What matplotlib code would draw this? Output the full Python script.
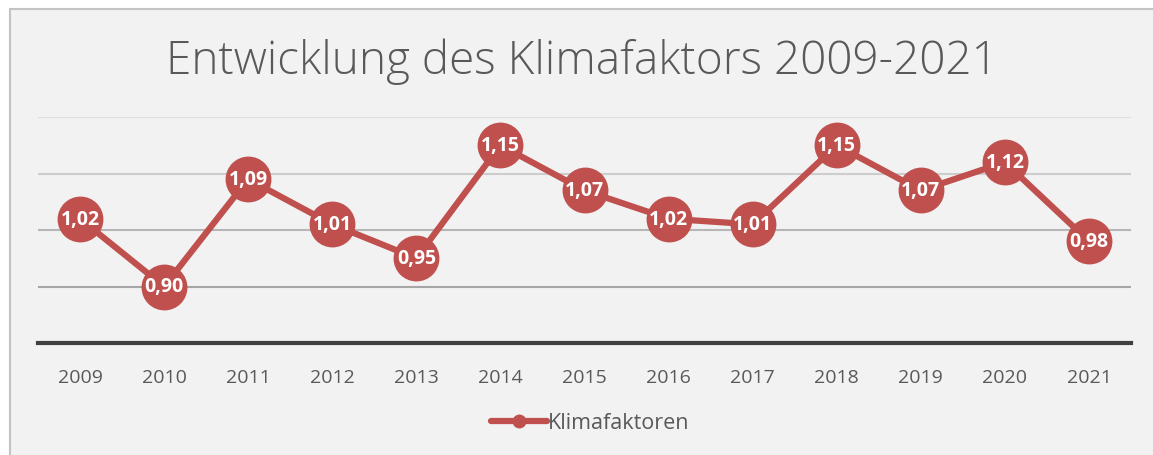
import matplotlib.pyplot as plt
from matplotlib.patches import Rectangle
from matplotlib.lines import Line2D

# Daten
jahre = ['2009', '2010', '2011', '2012', '2013', '2014', '2015',
         '2016', '2017', '2018', '2019', '2020', '2021']
klimafaktoren = [1.02, 0.90, 1.09, 1.01, 0.95, 1.15, 1.07,
                 1.02, 1.01, 1.15, 1.07, 1.12, 0.98]
gitter_werte = [0.9, 1.0, 1.1, 1.2]
gitter_farben = ['#a6a6a6', '#b6b6b6', '#cdcdcd', '#dedede']

rot = '#c0504d'
grau_text = '#595959'

plt.rcParams['font.family'] = ['Open Sans', 'DejaVu Sans']

fig = plt.figure(figsize=(11.53, 4.56), dpi=100)
fig.patch.set_facecolor('white')

# Diagrammhintergrund mit Rahmen
hintergrund = Rectangle((10 / 1153, -0.1), 1.2, 446 / 456 + 0.1,
                        transform=fig.transFigure, facecolor='#f2f2f2',
                        edgecolor='#c3c3c3', linewidth=1.5, zorder=-10)
fig.patches.append(hintergrund)

ax = fig.add_axes([38 / 1153, 112 / 456, 1093 / 1153, 226 / 456])
ax.set_facecolor('none')
ax.set_zorder(5)

x = range(len(jahre))

# Gitterlinien
for wert, farbe in zip(gitter_werte, gitter_farben):
    ax.axhline(wert, color=farbe, linewidth=1.5, zorder=1)
ax.axhline(0.8, color='#404040', linewidth=3, zorder=1, clip_on=False)

ax.plot(x, klimafaktoren, color=rot, linewidth=4.5, marker='o',
        markersize=32, markeredgecolor=rot, zorder=3, label='Klimafaktoren',
        solid_capstyle='round', clip_on=False)

for i, wert in enumerate(klimafaktoren):
    ax.text(i, wert, f'{wert:.2f}'.replace('.', ','), ha='center', va='center',
            color='white', fontsize=14, fontweight='bold', zorder=4)

ax.set_xlim(-0.5, len(jahre) - 0.5)
ax.set_ylim(0.8, 1.2)
ax.set_xticks(list(x))
ax.set_xticklabels(jahre, fontsize=14, color=grau_text)
ax.tick_params(axis='x', length=0, pad=18)
ax.set_yticks([])
for s in ax.spines.values():
    s.set_visible(False)

fig.text(582 / 1153, 1 - 62 / 456, 'Entwicklung des Klimafaktors 2009-2021',
         ha='center', va='center', fontsize=33, fontweight='light',
         color=grau_text)

# Legende
handle = Line2D([], [], color=rot, linewidth=4.5, marker='o', markersize=9,
                solid_capstyle='round')
fig.legend([handle], ['Klimafaktoren'], loc='center',
           bbox_to_anchor=(590 / 1153, 1 - 424 / 456), frameon=False,
           fontsize=15.5, labelcolor=grau_text, handlelength=2.6,
           handletextpad=0.05)

fig.savefig('out.png', dpi=100, facecolor=fig.get_facecolor())
